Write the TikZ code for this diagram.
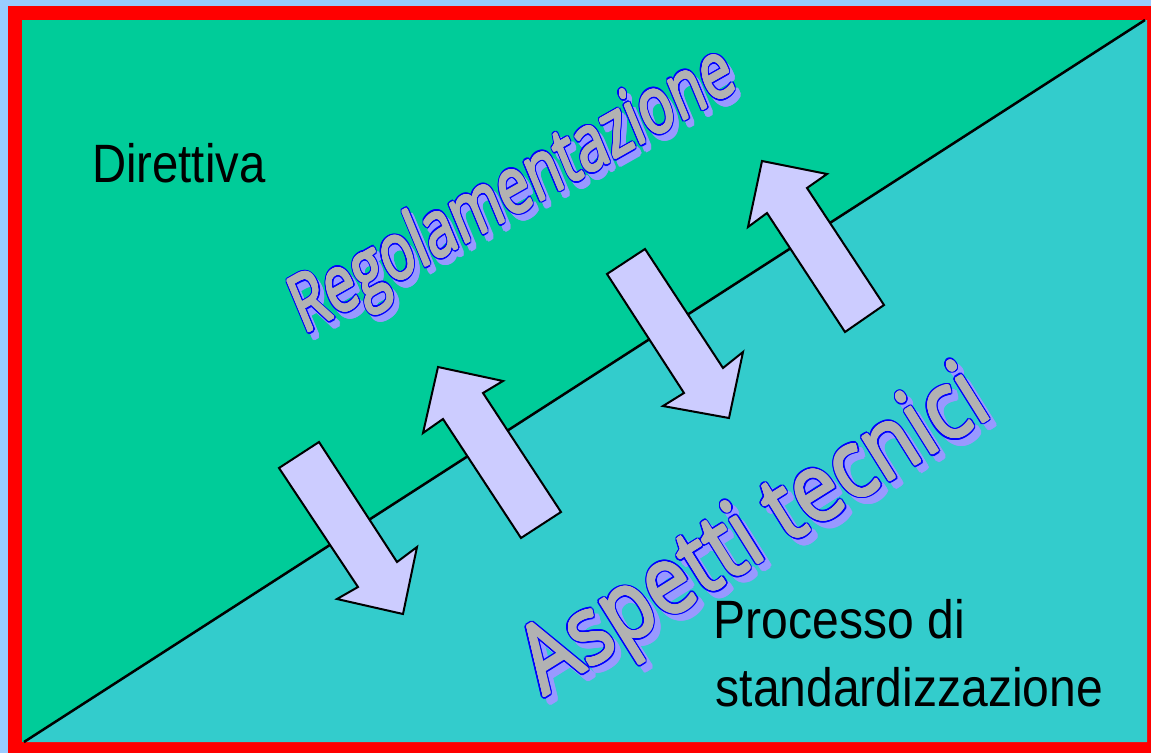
\documentclass[tikz,border=0pt]{standalone}
\usepackage{fontspec}
\setmainfont{Liberation Sans}
\newfontfamily\wafont{Open Sans}
\usepackage{graphicx}
\usepackage[copies]{contour}
\contourlength{1.5pt}
\definecolor{outerblue}{HTML}{99CCFF}
\definecolor{framered}{HTML}{FF0000}
\definecolor{upgreen}{HTML}{00CC99}
\definecolor{lowteal}{HTML}{33CCCC}
\definecolor{lav}{HTML}{CCCCFF}
\definecolor{wagrey}{HTML}{B2B2B2}
\definecolor{shadowc}{HTML}{9999FF}
\newcommand{\wafront}[1]{{\color{wagrey}\rlap{\contourlength{2.6pt}\contour{blue}{#1}}\contourlength{1pt}\contour{wagrey}{#1}}}
\newcommand{\washadow}[1]{{\color{shadowc}\contourlength{2.4pt}\contour{shadowc}{#1}}}
\begin{document}
\begin{tikzpicture}[x=1pt,y=-1pt,
  bigarrow/.style={fill=lav, draw=black, line width=2pt, line join=miter},
  plain/.style={font=\fontsize{54}{65}\selectfont, inner sep=0pt, anchor=base west, text=black},
  wa/.style={inner sep=0pt, anchor=base west, transform shape}]
\useasboundingbox (0,0) rectangle (1151,753);
\fill[outerblue] (0,0) rectangle (1151,753);
\fill[framered] (8,6) rectangle (1151,753);
\fill[upgreen] (22,20) rectangle (1147,742);
\coordinate (dl) at (24,742);
\coordinate (dr) at (1145,20);
\fill[lowteal] (dl) -- (dr) -- (1147,20) -- (1147,742) -- cycle;
\draw[line width=2.5pt] (dl) -- (dr);
% arrow 1 (down)
\draw[bigarrow] (279,468) -- (319,442) -- (397,562) -- (417,547) -- (403,614) -- (337,599) -- (358,587) -- cycle;
% arrow 2 (up)
\draw[bigarrow] (438,367) -- (503,381) -- (483,393) -- (561,512) -- (521,538) -- (443,419) -- (423,433) -- cycle;
% arrow 3 (down)
\draw[bigarrow] (607,274) -- (645,249) -- (723,368) -- (743,352) -- (729,418) -- (663,406) -- (684,393) -- cycle;
% arrow 4 (up)
\draw[bigarrow] (762,161) -- (827,174) -- (807,188) -- (884,305) -- (845,332) -- (767,213) -- (748,227) -- cycle;
% plain texts
\node[plain] (dir) at (92,182) {\scalebox{0.875}[1]{Direttiva}};
\node[plain] (proc1) at (713.5,638.3) {\scalebox{0.89}[1]{Processo di}};
\node[plain] (proc2) at (715.5,706.7) {\scalebox{0.89}[1]{standardizzazione}};
% WordArt: Regolamentazione
\begin{scope}[shift={(309,341)}, rotate=29.5, xslant=0.12, xscale=0.77, yscale=1.03]
  \node[wa, font=\wafont\fontsize{75}{80}\selectfont] (regsh) at (0,0) {\washadow{Regolamentazione}};
\end{scope}
\begin{scope}[shift={(304,335)}, rotate=29.5, xslant=0.12, xscale=0.77, yscale=1.03]
  \node[wa, font=\wafont\fontsize{75}{80}\selectfont] (reg) at (0,0) {\wafront{Regolamentazione}};
\end{scope}
% WordArt: Aspetti tecnici
\begin{scope}[shift={(550,703)}, rotate=32, xscale=0.91, yscale=1.06]
  \node[wa, font=\wafont\fontsize{90}{95}\selectfont] (aspsh) at (0,0) {\washadow{Aspetti tecnici}};
\end{scope}
\begin{scope}[shift={(544,697)}, rotate=32, xscale=0.91, yscale=1.06]
  \node[wa, font=\wafont\fontsize{90}{95}\selectfont] (asp) at (0,0) {\wafront{Aspetti tecnici}};
\end{scope}
\end{tikzpicture}
\end{document}
